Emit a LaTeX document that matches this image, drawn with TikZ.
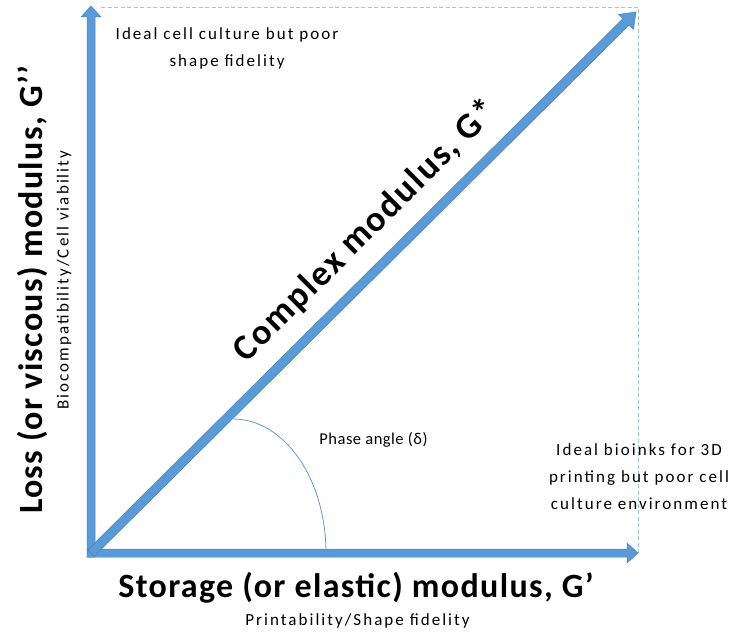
\documentclass[tikz,border=0pt]{standalone}
\usepackage{fontspec}
\setmainfont{Carlito}
\newfontfamily\smallfont[LetterSpace=12]{Carlito}
\newfontfamily\phasefont[LetterSpace=3]{Carlito}
\newfontfamily\axisfont[LetterSpace=4]{Carlito}
\newfontfamily\diagfont[LetterSpace=5]{Carlito}
\definecolor{ablue}{HTML}{5B9BD5}
\definecolor{aedge}{HTML}{4A80B8}
\definecolor{dashblue}{HTML}{9DC3E6}
\begin{document}
\begin{tikzpicture}[x=1pt,y=1pt,
  blockarrow/.style={fill=ablue,draw=aedge,line width=0.5pt,line join=miter},
  guide/.style={draw=dashblue,line width=0.9pt,dash pattern=on 4pt off 2.5pt},
  axislabel/.style={font=\axisfont\fontsize{34}{40}\selectfont\bfseries,inner sep=0pt},
  diaglabel/.style={font=\diagfont\fontsize{36}{42}\selectfont\bfseries,inner sep=0pt},
  smalllabel/.style={font=\smallfont\fontsize{17}{27}\selectfont,inner sep=0pt,align=center}]
\useasboundingbox (0,0) rectangle (736,633);
\coordinate (O) at (91,80);
\coordinate (TR) at (638,626);
% guide lines
\draw[guide] (101,626) -- (TR) -- (638,80);
% vertical arrow
\draw[blockarrow] (87,76) -- (95,76) -- (95,616) -- (101,616) -- (91,627) -- (81,616) -- (87,616) -- cycle;
% horizontal arrow
\draw[blockarrow] (87,76) -- (627,76) -- (627,70) -- (638,80) -- (627,90) -- (627,84) -- (87,84) -- cycle;
% diagonal arrow and its label
\begin{scope}[shift={(O)},rotate=44.79]
\draw[blockarrow] (0,-4.5) -- (754,-4.5) -- (754,-10.5) -- (768,0) -- (754,10.5) -- (754,4.5) -- (0,4.5) -- cycle;
\node[diaglabel,rotate=44.79] (cm) at (422,35) {Complex modulus, G*};
\end{scope}
% phase angle arc
\draw[ablue,line width=0.8pt] (326,80) arc[start angle=0,end angle=90,x radius=93,y radius=134];
% texts
\node[smalllabel] (tl) at (227,585) {Ideal cell culture but poor\\shape fidelity};
\node[smalllabel,font=\phasefont\fontsize{16.5}{27}\selectfont] (pa) at (373.5,193) {Phase angle (δ)};
\node[smalllabel] (br) at (639,156) {Ideal bioinks for 3D\\printing but poor cell\\culture environment};
\node[axislabel,rotate=90,anchor=base] (yl) at (42,343) {Loss (or viscous) modulus, G’’};
\node[smalllabel,rotate=90,anchor=base] (ys) at (68.5,353) {Biocompatibility/Cell viability};
\node[axislabel,anchor=base] (xl) at (356,36) {Storage (or elastic) modulus, G’};
\node[smalllabel,anchor=base] (xs) at (357.5,8) {Printability/Shape fidelity};
\end{tikzpicture}
\end{document}
